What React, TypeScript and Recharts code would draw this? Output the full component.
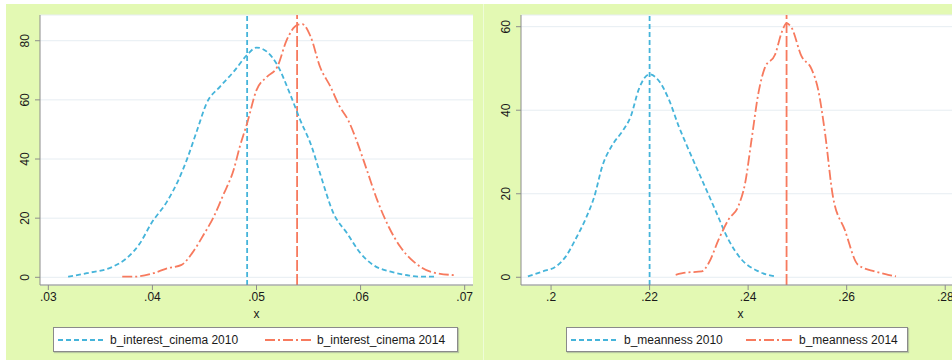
import React from "react";
import { LineChart, Line, XAxis, YAxis, CartesianGrid, ReferenceLine } from "recharts";

// kernel density estimates
const cinema2010 = [
  { x: 0.0319, y: 0.2 }, { x: 0.0337, y: 1.4 }, { x: 0.0362, y: 3.6 }, { x: 0.0375, y: 6.4 },
  { x: 0.0388, y: 11.5 }, { x: 0.0399, y: 18.3 }, { x: 0.0414, y: 25.6 }, { x: 0.0425, y: 32.9 },
  { x: 0.0433, y: 39.7 }, { x: 0.0443, y: 49.8 }, { x: 0.0452, y: 58.8 }, { x: 0.0465, y: 64.5 },
  { x: 0.0478, y: 69.5 }, { x: 0.0491, y: 75.2 }, { x: 0.05, y: 77.7 }, { x: 0.051, y: 76.3 },
  { x: 0.052, y: 71.8 }, { x: 0.0532, y: 62.2 }, { x: 0.0542, y: 53.2 }, { x: 0.0553, y: 44.2 },
  { x: 0.0561, y: 35.2 }, { x: 0.0574, y: 21.6 }, { x: 0.0587, y: 14.9 }, { x: 0.06, y: 8.1 },
  { x: 0.0612, y: 4.2 }, { x: 0.0629, y: 1.9 }, { x: 0.0645, y: 0.7 }, { x: 0.0657, y: 0.2 },
  { x: 0.0673, y: 0.2 },
];

const cinema2014 = [
  { x: 0.0371, y: 0.2 }, { x: 0.0382, y: 0.2 }, { x: 0.0401, y: 1.4 }, { x: 0.0414, y: 3.0 },
  { x: 0.0428, y: 4.2 }, { x: 0.0438, y: 8.1 }, { x: 0.0449, y: 14.3 }, { x: 0.0459, y: 20.5 },
  { x: 0.0468, y: 27.8 }, { x: 0.0478, y: 36.3 }, { x: 0.0484, y: 44.2 }, { x: 0.0491, y: 52.1 },
  { x: 0.05, y: 63.3 }, { x: 0.051, y: 67.8 }, { x: 0.052, y: 71.2 }, { x: 0.0529, y: 80.2 },
  { x: 0.0539, y: 85.3 }, { x: 0.0544, y: 85.6 }, { x: 0.0552, y: 81.4 }, { x: 0.0561, y: 71.2 },
  { x: 0.0571, y: 64.5 }, { x: 0.058, y: 57.7 }, { x: 0.0588, y: 53.2 }, { x: 0.0596, y: 46.4 },
  { x: 0.0606, y: 36.3 }, { x: 0.0616, y: 26.1 }, { x: 0.0627, y: 17.1 }, { x: 0.0638, y: 10.4 },
  { x: 0.0651, y: 5.3 }, { x: 0.0667, y: 1.9 }, { x: 0.0691, y: 0.7 },
];

const meanness2010 = [
  { x: 0.1953, y: 0.2 }, { x: 0.1983, y: 1.4 }, { x: 0.201, y: 2.6 }, { x: 0.203, y: 5.0 },
  { x: 0.2051, y: 9.4 }, { x: 0.2071, y: 14.2 }, { x: 0.2088, y: 19.4 }, { x: 0.2104, y: 26.6 },
  { x: 0.2125, y: 31.8 }, { x: 0.2145, y: 35.0 }, { x: 0.2162, y: 38.6 }, { x: 0.2178, y: 45.0 },
  { x: 0.22, y: 48.6 }, { x: 0.2219, y: 47.0 }, { x: 0.2239, y: 42.6 }, { x: 0.2259, y: 36.2 },
  { x: 0.2279, y: 30.6 }, { x: 0.2306, y: 23.4 }, { x: 0.2333, y: 16.2 }, { x: 0.236, y: 9.0 },
  { x: 0.2387, y: 4.2 }, { x: 0.2421, y: 1.4 }, { x: 0.2455, y: 0.2 },
];

const meanness2014 = [
  { x: 0.2253, y: 0.6 }, { x: 0.2273, y: 1.1 }, { x: 0.2306, y: 1.4 }, { x: 0.232, y: 3.4 },
  { x: 0.234, y: 9.0 }, { x: 0.236, y: 13.8 }, { x: 0.238, y: 17.0 }, { x: 0.2394, y: 22.6 },
  { x: 0.2407, y: 33.0 }, { x: 0.2421, y: 44.2 }, { x: 0.2434, y: 50.2 }, { x: 0.2455, y: 53.4 },
  { x: 0.2468, y: 58.6 }, { x: 0.2478, y: 60.8 }, { x: 0.2488, y: 59.8 }, { x: 0.2508, y: 53.0 },
  { x: 0.2529, y: 49.8 }, { x: 0.2542, y: 45.0 }, { x: 0.2556, y: 34.6 }, { x: 0.2572, y: 19.4 },
  { x: 0.2596, y: 11.4 }, { x: 0.2623, y: 3.0 }, { x: 0.2657, y: 1.4 }, { x: 0.2684, y: 0.6 },
  { x: 0.27, y: 0.2 },
];

const cinemaMeans = [0.0491, 0.0539];
const meannessMeans = [0.22, 0.2478];

const cinemaXTicks = [0.03, 0.04, 0.05, 0.06, 0.07];
const meannessXTicks = [0.2, 0.22, 0.24, 0.26, 0.28];
const cinemaYTicks = [0, 20, 40, 60, 80];
const meannessYTicks = [0, 20, 40, 60];

const BLUE = "#45b4da";
const RED = "#f77a5e";
const BLUE_DASH = "5 3";
const RED_DASH = "10 3 2 3";
const FONT = "'Liberation Sans', Arial, sans-serif";

const fmtX = (v: number) => {
  const s = String(Math.round(v * 100) / 100);
  return s.startsWith("0") ? s.slice(1) : s;
};

const VTick = (props: any) => {
  const { x, y, payload } = props;
  return (
    <text
      x={x}
      y={y}
      transform={`rotate(-90, ${x}, ${y})`}
      textAnchor="middle"
      dominantBaseline="central"
      fontSize={12}
      fill="#1a1a1a"
      fontFamily={FONT}
    >
      {payload.value}
    </text>
  );
};

function DensityPanel({
  a, b, means, xDomain, xTicks, yDomain, yTicks, width, yWidth, right,
}: any) {
  return (
    <LineChart width={width} height={360} margin={{ top: 15, right, left: 0, bottom: 40 }}>
      <CartesianGrid vertical={false} stroke="#e6edf2" fill="#ffffff" />
      <XAxis
        type="number"
        dataKey="x"
        domain={xDomain}
        ticks={xTicks}
        allowDataOverflow
        tickFormatter={fmtX}
        height={35}
        tickSize={5}
        tickMargin={2}
        stroke="#8c8c8c"
        tick={{ fill: "#1a1a1a", fontSize: 12, fontFamily: FONT }}
        label={{ value: "x", position: "insideBottom", offset: 2, fill: "#1a1a1a", fontSize: 12, fontFamily: FONT }}
      />
      <YAxis
        type="number"
        dataKey="y"
        domain={yDomain}
        ticks={yTicks}
        allowDataOverflow
        width={yWidth}
        tickSize={5}
        tickMargin={10}
        stroke="#8c8c8c"
        tick={<VTick />}
      />
      <ReferenceLine x={means[0]} stroke={BLUE} strokeWidth={1.8} strokeDasharray={BLUE_DASH} />
      <ReferenceLine x={means[1]} stroke={RED} strokeWidth={1.8} strokeDasharray="11 3" />
      <Line data={a} dataKey="y" type="monotone" stroke={BLUE} strokeWidth={1.8}
        strokeDasharray={BLUE_DASH} dot={false} isAnimationActive={false} />
      <Line data={b} dataKey="y" type="monotone" stroke={RED} strokeWidth={1.8}
        strokeDasharray={RED_DASH} dot={false} isAnimationActive={false} />
    </LineChart>
  );
}

function LegendBox({ left, width, items, textGap }: any) {
  return (
    <div
      style={{
        position: "absolute", left, top: 327, width, height: 25, boxSizing: "border-box",
        background: "#fff", border: "1px solid #8a8a8a", boxShadow: "1px 1px 1px #b8c8a0",
        fontFamily: FONT, fontSize: 12, color: "#1a1a1a",
      }}
    >
      {items.map((it: any, i: number) => (
        <div key={i} style={{ position: "absolute", left: it.at, top: 0, height: 23, display: "flex", alignItems: "center" }}>
          <svg width={46} height={6}>
            <line x1={0} y1={3} x2={46} y2={3} stroke={it.color} strokeWidth={1.8} strokeDasharray={it.dash} />
          </svg>
          <span style={{ marginLeft: textGap }}>{it.label}</span>
        </div>
      ))}
    </div>
  );
}

export default function App() {
  return (
    <div style={{ position: "absolute", left: 0, top: 0, width: 952, height: 360, background: "#fff", overflow: "hidden" }}>
      <div style={{ position: "absolute", left: 6, top: 4, width: 946, height: 356, background: "#e3f9b3" }} />
      <div style={{ position: "absolute", left: 483, top: 4, width: 1, height: 356, background: "#eefcd8" }} />
      <div style={{ position: "absolute", left: 0, top: 0 }}>
        <DensityPanel
          a={cinema2010} b={cinema2014} means={cinemaMeans}
          xDomain={[0.0292, 0.0708]} xTicks={cinemaXTicks}
          yDomain={[-2.6, 88.7]} yTicks={cinemaYTicks}
          width={476} yWidth={40} right={3}
        />
      </div>
      <div style={{ position: "absolute", left: 476, top: 0 }}>
        <DensityPanel
          a={meanness2010} b={meanness2014} means={meannessMeans}
          xDomain={[0.1939, 0.283]} xTicks={meannessXTicks}
          yDomain={[-1.85, 62.8]} yTicks={meannessYTicks}
          width={484} yWidth={45} right={0}
        />
      </div>
      <LegendBox
        left={53} width={405} textGap={6}
        items={[
          { at: 4, color: BLUE, dash: BLUE_DASH, label: "b_interest_cinema 2010" },
          { at: 211, color: RED, dash: RED_DASH, label: "b_interest_cinema 2014" },
        ]}
      />
      <LegendBox
        left={566} width={342} textGap={7}
        items={[
          { at: 4, color: BLUE, dash: BLUE_DASH, label: "b_meanness 2010" },
          { at: 179, color: RED, dash: RED_DASH, label: "b_meanness 2014" },
        ]}
      />
    </div>
  );
}
